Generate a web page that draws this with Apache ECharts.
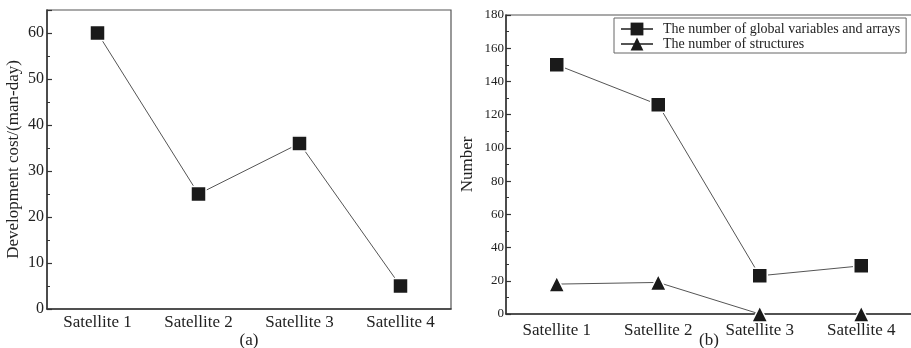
<!DOCTYPE html>
<html>
<head>
<meta charset="utf-8">
<script src="https://cdn.jsdelivr.net/npm/echarts@6/dist/echarts.min.js"></script>
<style>html,body{margin:0;padding:0;background:#fff;}#c{width:911px;height:348px;}</style>
</head>
<body>
<div id="c"></div>
<script>
var categories = ['Satellite 1', 'Satellite 2', 'Satellite 3', 'Satellite 4'];
var devCost = [60, 25, 36, 5];
var globalVars = [150, 126, 23, 29];
var structures = [18, 19, 0, 0];
var seriesNames = ['The number of global variables and arrays', 'The number of structures'];

var FONT = '"Liberation Serif", "Times New Roman", serif';
var chart = echarts.init(document.getElementById('c'));

function xAxisBase(gi, name, labelMargin, nameGap) {
  return {
    type: 'category', gridIndex: gi, data: categories, boundaryGap: true,
    name: name, nameLocation: 'middle', nameGap: nameGap, nameMoveOverlap: false,
    nameTextStyle: {fontFamily: FONT, fontSize: 17, color: '#222'},
    axisLine: {lineStyle: {color: '#333', width: 1.5}},
    axisTick: {inside: true, alignWithLabel: true, length: 6, lineStyle: {color: '#333', width: 1.5}},
    axisLabel: {fontFamily: FONT, fontSize: 17, color: '#222', margin: labelMargin, interval: 0},
    splitLine: {show: false}
  };
}
function xAxisMinor(gi) {
  return {
    type: 'category', gridIndex: gi, data: categories, boundaryGap: true, position: 'bottom',
    axisLine: {show: false},
    axisTick: {inside: true, alignWithLabel: false, length: 3, interval: 0, lineStyle: {color: '#333', width: 1.5}},
    axisLabel: {show: false}, splitLine: {show: false}
  };
}
function yAxisBase(gi, max, interval, name, nameGap, fontSize, margin) {
  return {
    type: 'value', gridIndex: gi, min: 0, max: max, interval: interval,
    name: name, nameLocation: 'middle', nameGap: nameGap, nameMoveOverlap: false,
    nameTextStyle: {fontFamily: FONT, fontSize: 17, color: '#222'},
    axisLine: {show: true, lineStyle: {color: '#333', width: 1.5}},
    axisTick: {show: true, inside: true, length: 5, lineStyle: {color: '#333', width: 1.2}},
    minorTick: {show: true, splitNumber: 2, length: 3, lineStyle: {color: '#333', width: 1}},
    axisLabel: {fontFamily: FONT, fontSize: fontSize, color: '#222', margin: margin,
      formatter: function (v) { return v % interval === 0 ? String(v) : ''; }},
    splitLine: {show: false}
  };
}

var option = {
  backgroundColor: '#fff',
  animation: false,
  grid: [
    {left: 47, top: 10, width: 404, height: 299, show: true, borderColor: '#555', borderWidth: 1.2, containLabel: false, outerBoundsMode: 'none'},
    {left: 506, top: 15, width: 406, height: 299, show: true, borderColor: '#555', borderWidth: 1.2, containLabel: false, outerBoundsMode: 'none'}
  ],
  legend: {
    orient: 'vertical', left: 614, top: 18,
    data: seriesNames,
    borderColor: '#666', borderWidth: 1, padding: [4, 6, 2, 6],
    itemGap: 1, itemWidth: 32, itemHeight: 16,
    itemStyle: {borderWidth: 0},
    textStyle: {fontFamily: FONT, fontSize: 14, color: '#222', padding: [0, 0, 0, 5]}
  },
  xAxis: [
    xAxisBase(0, '(a)', 5, 23), xAxisMinor(0),
    xAxisBase(1, '(b)', 8, 18), xAxisMinor(1)
  ],
  yAxis: [
    yAxisBase(0, 65, 10, 'Development cost/(man-day)', 25, 16, 3),
    yAxisBase(1, 180, 20, 'Number', 30, 13, 2)
  ],
  series: [
    {
      type: 'line', xAxisIndex: 0, yAxisIndex: 0, data: devCost, clip: false,
      symbol: 'rect', symbolSize: 15,
      lineStyle: {color: '#555', width: 1},
      itemStyle: {color: '#1a1a1a', borderColor: '#fff', borderWidth: 1.5}
    },
    {
      name: seriesNames[0], type: 'line', xAxisIndex: 2, yAxisIndex: 1, data: globalVars, clip: false,
      symbol: 'rect', symbolSize: 15,
      lineStyle: {color: '#555', width: 1},
      itemStyle: {color: '#1a1a1a', borderColor: '#fff', borderWidth: 1.5}
    },
    {
      name: seriesNames[1], type: 'line', xAxisIndex: 2, yAxisIndex: 1, data: structures, clip: false,
      symbol: 'triangle', symbolSize: 16,
      lineStyle: {color: '#555', width: 1},
      itemStyle: {color: '#1a1a1a', borderColor: '#fff', borderWidth: 1.5}
    }
  ]
};
chart.setOption(option);
</script>
</body>
</html>
